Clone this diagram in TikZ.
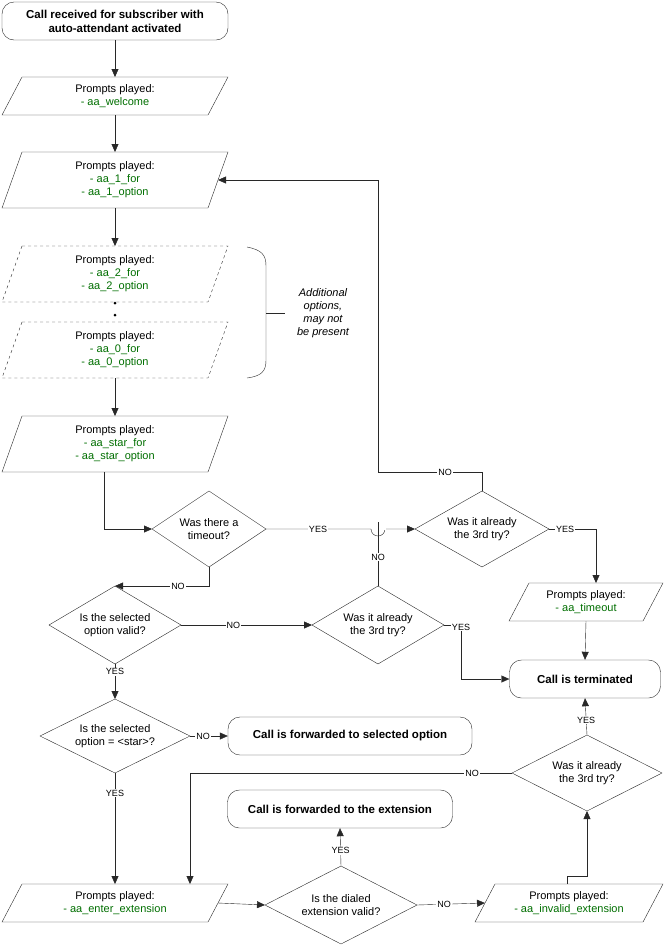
\documentclass[tikz,border=0pt]{standalone}
\usepackage{fontspec}
\setmainfont{Liberation Sans}
\usetikzlibrary{arrows.meta,calc,decorations.pathreplacing}
\definecolor{gr}{RGB}{0,110,0}
\definecolor{ln}{RGB}{40,40,40}
\newcommand\pio[7]{% name,cx,cy,halfh,halfw,style,text
  \draw[#6] ({#2-#5+20},{#3-#4}) -- ({#2+#5},{#3-#4}) -- ({#2+#5-20},{#3+#4}) -- ({#2-#5},{#3+#4}) -- cycle;
  \node[txt] (#1) at (#2,#3) {#7};
  \coordinate (#1-t) at (#2,{#3-#4});
  \coordinate (#1-b) at (#2,{#3+#4});
  \coordinate (#1-r) at ({#2+#5-10},#3);
  \coordinate (#1-l) at ({#2-#5+10},#3);}
\newcommand\dia[6]{% name,cx,cy,hw,hh,text
  \draw[ln] ({#2-#4},#3) -- (#2,{#3-#5}) -- ({#2+#4},#3) -- (#2,{#3+#5}) -- cycle;
  \node[txt] (#1) at (#2,#3) {#6};
  \coordinate (#1-t) at (#2,{#3-#5});
  \coordinate (#1-b) at (#2,{#3+#5});
  \coordinate (#1-r) at ({#2+#4},#3);
  \coordinate (#1-l) at ({#2-#4},#3);}
\begin{document}
\begin{tikzpicture}[x=1pt,y=-1pt,
  txt/.style={align=center,font=\fontsize{11}{13}\selectfont,inner sep=0pt},
  term/.style={draw=ln,rounded corners=12pt,align=center,inner sep=0pt,font=\fontsize{11.5}{14}\selectfont\bfseries},
  ar/.style={draw=ln,-{Triangle[length=8pt,width=7pt]}},
  ln/.style={draw=ln},
  lb/.style={fill=white,inner sep=1pt,font=\fontsize{9}{10}\selectfont}]
\useasboundingbox (0,0) rectangle (666,946);
\node[term,minimum width=226pt,minimum height=38pt] (start) at (115,21) {Call received for subscriber with\\auto-attendant activated};
\pio{pw}{115}{96}{19}{113}{ln}{Prompts played:\\\textcolor{gr}{- aa\_welcome}}
\pio{p1}{115}{180}{28}{113}{ln}{Prompts played:\\\textcolor{gr}{- aa\_1\_for}\\\textcolor{gr}{- aa\_1\_option}}
\pio{p2}{115}{274}{28}{113}{ln,dashed}{Prompts played:\\\textcolor{gr}{- aa\_2\_for}\\\textcolor{gr}{- aa\_2\_option}}
\pio{p0}{115}{350}{28}{113}{ln,dashed}{Prompts played:\\\textcolor{gr}{- aa\_0\_for}\\\textcolor{gr}{- aa\_0\_option}}
\pio{ps}{115}{444}{28}{113}{ln}{Prompts played:\\\textcolor{gr}{- aa\_star\_for}\\\textcolor{gr}{- aa\_star\_option}}
\fill (115,303) circle (1.5pt) (115,315) circle (1.5pt);
\draw[ln] (247,247) .. controls (262,250) and (266,255) .. (266,266) -- (266,302) -- (266,313) coordinate (bt) -- (266,360) .. controls (266,371) and (262,376) .. (247,378);
\draw[ln] (266,313) -- (285,313);
\node[txt,font=\fontsize{11}{13}\selectfont\itshape] (note) at (323,313) {Additional\\options,\\may not\\be present};
\dia{dto}{209}{529}{57}{38}{Was there a\\timeout?}
\dia{d3a}{482}{529}{67}{38}{Was it already\\the 3rd try?}
\pio{pto}{586}{602}{19}{77}{ln}{Prompts played:\\\textcolor{gr}{- aa\_timeout}}
\node[term,minimum width=151pt,minimum height=38pt] (term) at (585,679) {Call is terminated};
\dia{dv}{115}{625}{66}{39}{Is the selected\\option valid?}
\dia{d3b}{378}{625}{66}{39}{Was it already\\the 3rd try?}
\dia{dst}{115}{736}{75}{37}{Is the selected\\option = <star>?}
\node[term,minimum width=244pt,minimum height=38pt] (fsel) at (350,736) {Call is forwarded to selected option};
\node[term,minimum width=225pt,minimum height=38pt] (fext) at (340,809) {Call is forwarded to the extension};
\dia{d3c}{587}{773}{75}{38}{Was it already\\the 3rd try?}
\pio{pen}{115}{903}{19}{113}{ln}{Prompts played:\\\textcolor{gr}{- aa\_enter\_extension}}
\dia{ddl}{341}{905}{76}{39}{Is the dialed\\extension valid?}
\pio{pin}{569}{903}{19}{94}{ln}{Prompts played:\\\textcolor{gr}{- aa\_invalid\_extension}}
% connectors
\draw[ar] (start) -- (pw-t);
\draw[ar] (pw-b) -- (p1-t);
\draw[ar] (p1-b) -- (p2-t);
\draw[ar] (p0-b) -- (ps-t);
\draw[ar] (104,472) -- (104,529) -- (dto-l);
\draw[ar] (dto-r) -- (371,529) arc (180:0:7) -- (d3a-l) node[lb,pos=0] {} ;
\node[lb] at (318,529) {YES};
\draw[ar] (d3a-t) -- (482,472) -- (378,472) -- (378,180) -- (p1-r);
\node[lb] at (445,472) {NO};
\draw[ar] (d3a-r) -- (596,529) -- (596,583);
\node[lb] at (565,529) {YES};
\draw[ar] (pto-b) -- (term.north);
\draw[ar] (dto-b) -- (209,586) -- (dv-t);
\node[lb] at (178,586) {NO};
\draw[ar] (dv-r) -- (d3b-l) node[lb,pos=0.4] {NO};
\draw[ln] (d3b-t) -- (378,536);
\draw[ln] (378,536) -- (378,522);
\node[lb] at (378,557) {NO};
\draw[ar] (d3b-r) -- (461,625) -- (461,679) -- (term.west);
\node[lb] at (461,627) {YES};
\draw[ar] (dv-b) -- (dst-t) node[lb,pos=0.22] {YES};
\draw[ar] (dst-r) -- (fsel.west) node[lb,pos=0.35] {NO};
\draw[ar] (dst-b) -- (pen-t) node[lb,pos=0.18] {YES};
\draw[ar] (pen-r) -- (ddl-l);
\draw[ar] (ddl-t) -- (fext.south) node[lb,pos=0.4] {YES};
\draw[ar] (ddl-r) -- (pin-l) node[lb,pos=0.4] {NO};
\draw[ar] (567,884) -- (567,876) -- (587,876) -- (d3c-b);
\draw[ar] (d3c-t) -- (term.south) node[lb,pos=0.4] {YES};
\draw[ar] (d3c-l) -- (190,773) -- (190,884);
\node[lb] at (472,773) {NO};
\end{tikzpicture}
\end{document}
